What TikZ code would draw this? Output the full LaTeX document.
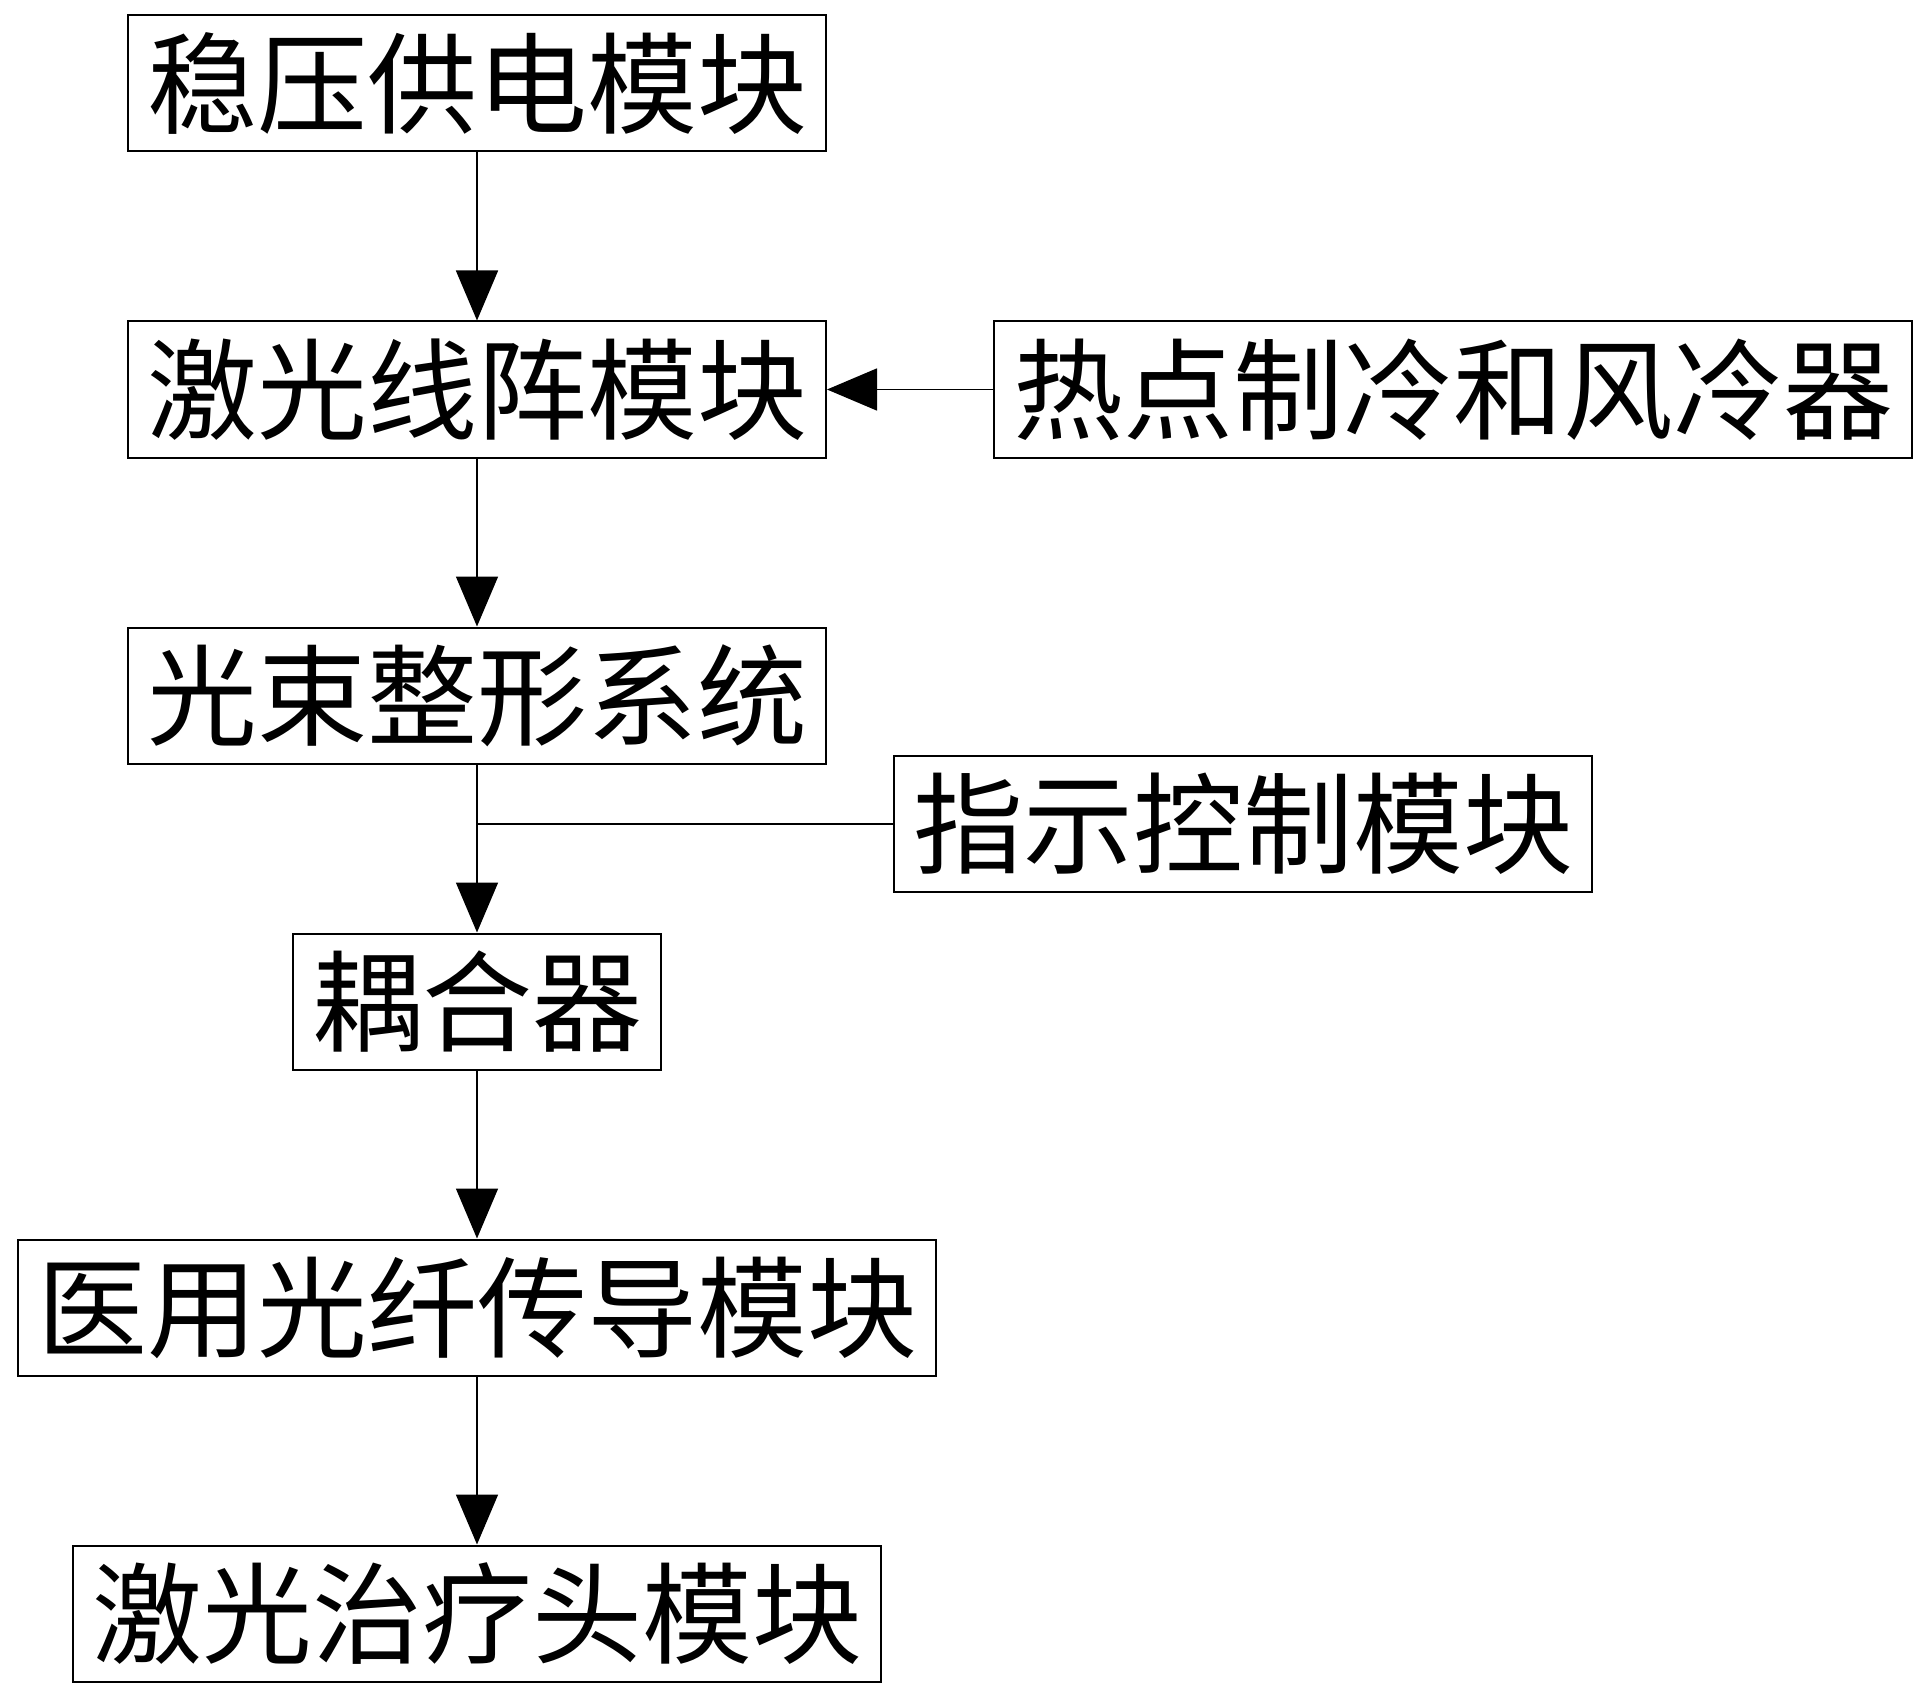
\documentclass[tikz,border=0pt]{standalone}
\usepackage{fontspec}
\setmainfont{Noto Sans CJK SC}
\usetikzlibrary{arrows.meta}

\begin{document}
\begin{tikzpicture}[x=1pt,y=1pt,
    box/.style={draw,line width=1pt,inner xsep=9.5pt,inner ysep=0pt,minimum height=68pt,
      font=\fontsize{55}{60}\selectfont},
    arr/.style={line width=0.8pt,-{Triangle[length=25pt,width=21pt]}}]
    \useasboundingbox (0,0) rectangle (963,-845);
    \def\cx{238.5}
    \def\dy{153}
    \node[box] (pwr)   at (\cx,-41.75)        {稳压供电模块};
    \node[box] (array) at (\cx,{-41.75-\dy})  {激光线阵模块};
    \node[box] (shape) at (\cx,{-41.75-2*\dy}) {光束整形系统};
    \node[box] (coup)  at (\cx,{-41.75-3*\dy}) {耦合器};
    \node[box] (fiber) at (\cx,{-41.75-4*\dy}) {医用光纤传导模块};
    \node[box] (head)  at (\cx,{-41.75-5*\dy}) {激光治疗头模块};
    \node[box] (cool)  at (726.5,{-41.75-\dy}) {热点制冷和风冷器};
    \node[box] (ind)   at (621.5,-412)         {指示控制模块};
    \coordinate (join) at (shape |- ind.west);
    \foreach \a/\b in {pwr/array,array/shape,shape/coup,coup/fiber,fiber/head}
      \draw[arr] (\a) -- (\b);
    \draw[arr] (cool) -- (array);
    \draw[line width=0.8pt] (ind.west) -- (join);
  \end{tikzpicture}
\end{document}
